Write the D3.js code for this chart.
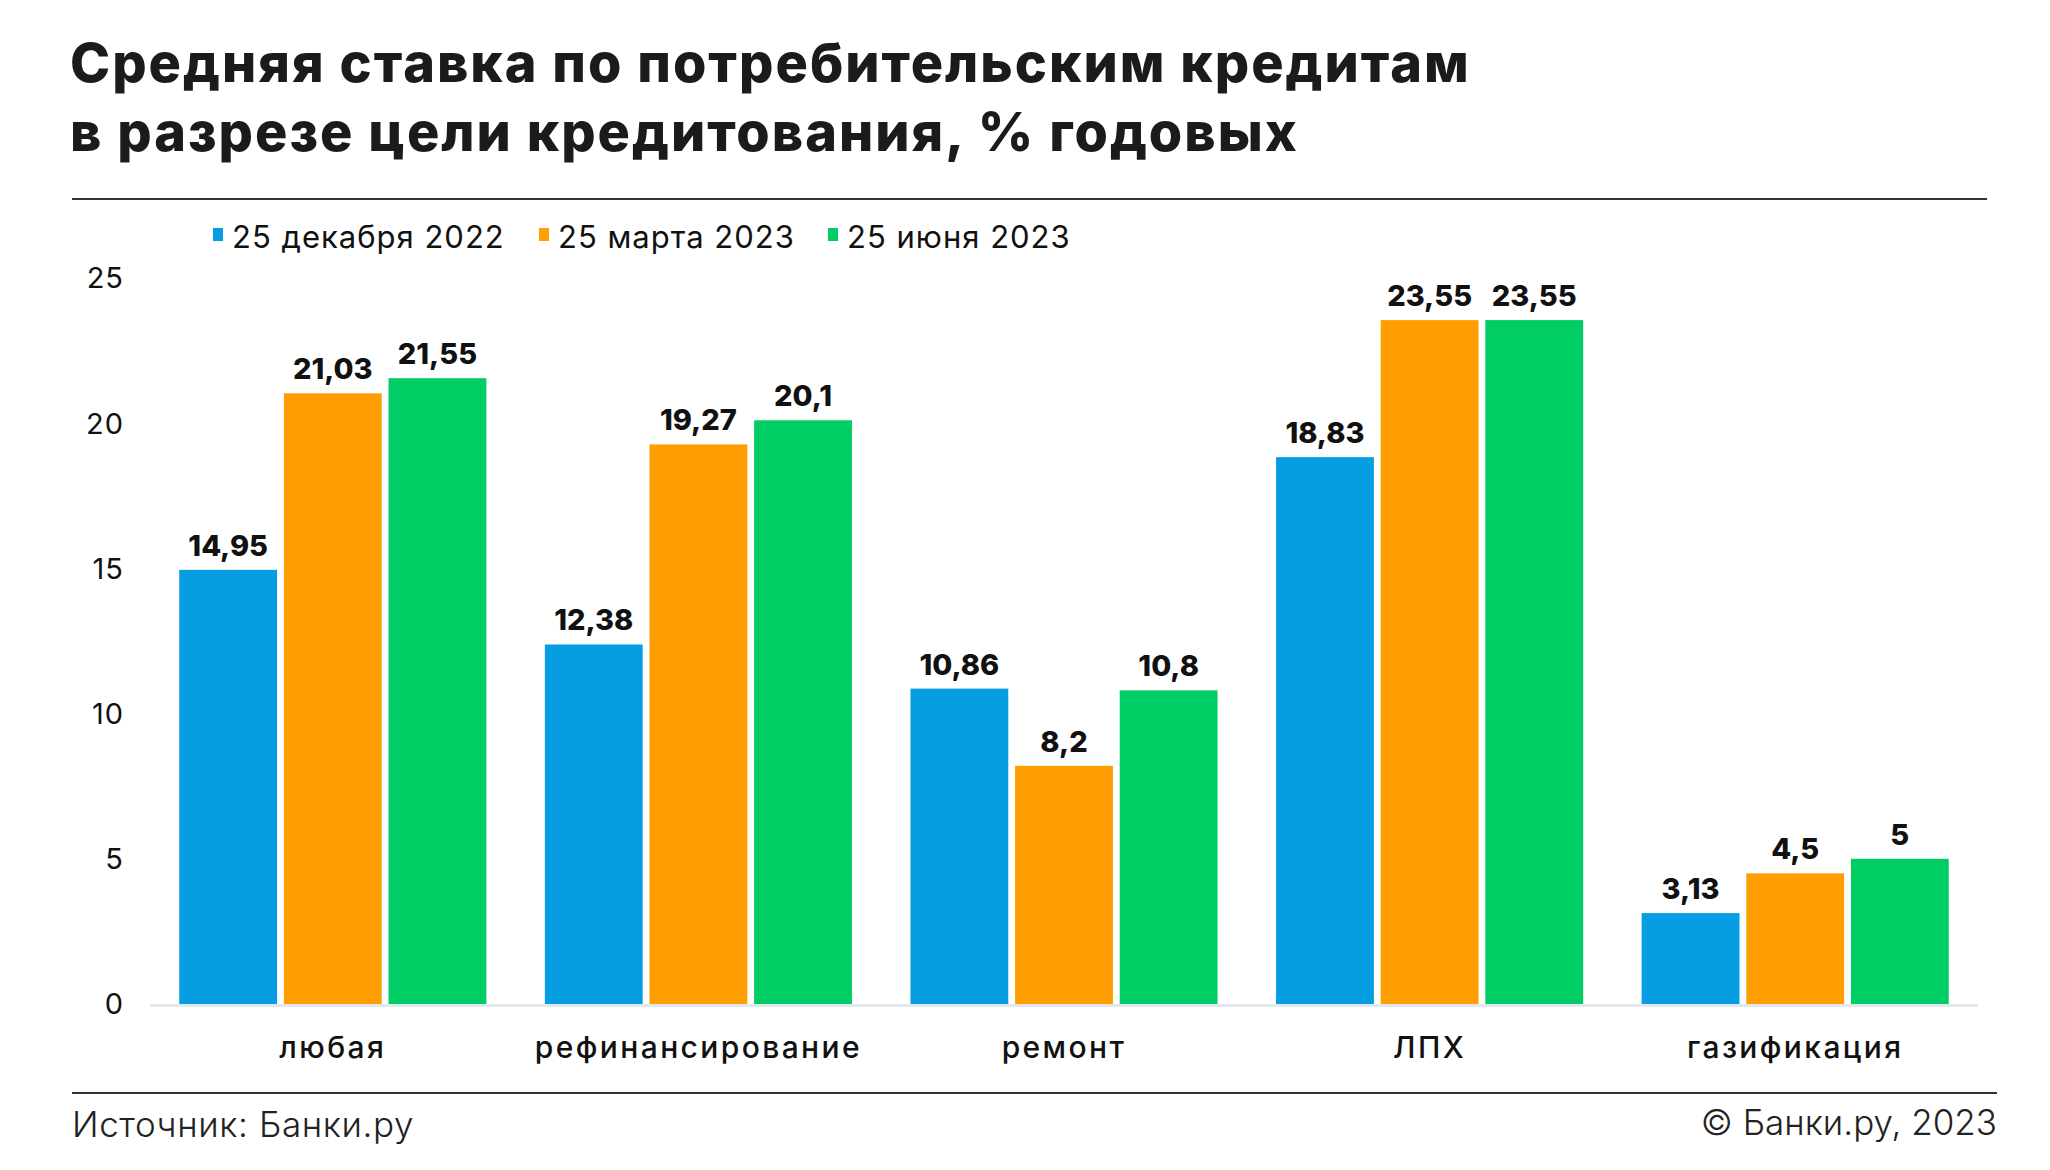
<!DOCTYPE html>
<html><head><meta charset="utf-8">
<script src="https://cdn.jsdelivr.net/npm/d3@7"></script>
<style>
html,body{margin:0;padding:0;background:#fff;}
svg{display:block;font-family:Inter,"Noto Sans",sans-serif;}
</style></head>
<body>
<svg id="chart" width="2050" height="1170"></svg>
<script>
const categories = ["любая", "рефинансирование", "ремонт", "ЛПХ", "газификация"];
const seriesNames = ["25 декабря 2022", "25 марта 2023", "25 июня 2023"];
const seriesColors = ["#069de3", "#ff9e00", "#00cd63"];
const dec2022 = [14.95, 12.38, 10.86, 18.83, 3.13];
const mar2023 = [21.03, 19.27, 8.2, 23.55, 4.5];
const jun2023 = [21.55, 20.1, 10.8, 23.55, 5];
const yTicks = [0, 5, 10, 15, 20, 25];
const titleLines = ["Средняя ставка по потребительским кредитам", "в разрезе цели кредитования, % годовых"];
const sourceText = "Источник: Банки.ру";
const copyrightText = "© Банки.ру, 2023";

const series = [dec2022, mar2023, jun2023];
const svg = d3.select("#chart");

// Title
svg.selectAll("text.title").data(titleLines).enter().append("text")
  .attr("class", "title")
  .attr("x", 70).attr("y", (d, i) => 82 + i * 69)
  .attr("font-size", 54).attr("font-weight", 800).attr("fill", "#1b1b1b")
  .attr("letter-spacing", "2.0")
  .text(d => d);

// Rules
svg.append("line").attr("x1", 72).attr("x2", 1987).attr("y1", 199).attr("y2", 199)
  .attr("stroke", "#333").attr("stroke-width", 2);
svg.append("line").attr("x1", 72).attr("x2", 1997).attr("y1", 1093).attr("y2", 1093)
  .attr("stroke", "#333").attr("stroke-width", 2);

// Scales
const x0 = d3.scaleBand().domain(categories).range([150, 1978]).paddingInner(0.16).paddingOuter(0.08);
const x1 = d3.scaleBand().domain(d3.range(3)).range([0, x0.bandwidth()]).paddingInner(0.065);
const y = d3.scaleLinear().domain([0, 25]).range([1004, 278]);

// Y axis tick labels
svg.selectAll("text.ytick").data(yTicks).enter().append("text")
  .attr("class", "ytick")
  .attr("x", 124).attr("y", d => y(d)).attr("dy", "0.36em")
  .attr("text-anchor", "end").attr("font-size", 29).attr("fill", "#111")
  .attr("letter-spacing", "1")
  .text(d => d);

// Baseline
svg.append("line").attr("x1", 150).attr("x2", 1978).attr("y1", y(0) + 1.5).attr("y2", y(0) + 1.5)
  .attr("stroke", "#e3e8ee").attr("stroke-width", 3);

// Bars
const fmt = v => String(v).replace(".", ",");
categories.forEach((c, ci) => {
  const g = svg.append("g").attr("transform", `translate(${x0(c)},0)`);
  series.forEach((s, si) => {
    g.append("rect")
      .attr("x", x1(si)).attr("width", x1.bandwidth())
      .attr("y", y(s[ci])).attr("height", y(0) - y(s[ci]))
      .attr("fill", seriesColors[si]);
    g.append("text")
      .attr("x", x1(si) + x1.bandwidth() / 2).attr("y", y(s[ci]) - 14)
      .attr("text-anchor", "middle").attr("font-size", 29).attr("font-weight", 800)
      .attr("fill", "#111")
      .text(fmt(s[ci]));
  });
});

// Category labels
svg.selectAll("text.cat").data(categories).enter().append("text")
  .attr("class", "cat")
  .attr("x", d => x0(d) + x0.bandwidth() / 2).attr("y", 1047).attr("dy", "0.36em")
  .attr("text-anchor", "middle").attr("font-size", 30).attr("font-weight", 500).attr("fill", "#111")
  .attr("letter-spacing", "2.4")
  .text(d => d);

// Legend
const legendX = [213, 539, 828];
seriesNames.forEach((n, i) => {
  svg.append("rect").attr("x", legendX[i]).attr("y", 228).attr("width", 10).attr("height", 13)
    .attr("fill", seriesColors[i]);
  svg.append("text").attr("x", legendX[i] + 19).attr("y", 237).attr("dy", "0.36em")
    .attr("font-size", 31).attr("fill", "#111").attr("letter-spacing", "1")
    .text(n);
});

// Footer
svg.append("text").attr("x", 72).attr("y", 1124).attr("dy", "0.36em")
  .attr("font-size", 35).attr("font-weight", 300).attr("fill", "#222").attr("letter-spacing", "0.6").text(sourceText);
svg.append("text").attr("x", 1997).attr("y", 1122).attr("dy", "0.36em").attr("text-anchor", "end")
  .attr("font-size", 35).attr("font-weight", 300).attr("fill", "#222").text(copyrightText);
</script>
</body></html>
